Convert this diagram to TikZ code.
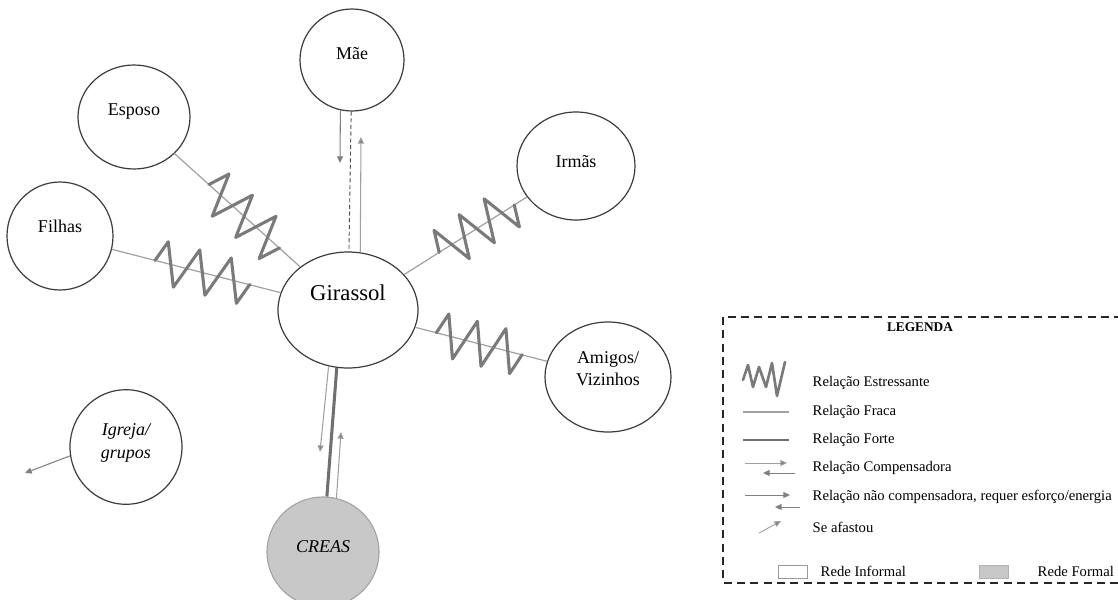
\documentclass[tikz,border=0pt]{standalone}
\usepackage{fontspec}
\setmainfont{Liberation Serif}
\usetikzlibrary{shapes.geometric,decorations.pathmorphing,calc,arrows.meta}
\definecolor{bord}{HTML}{3C3C3C}
\definecolor{weak}{HTML}{A0A0A0}
\definecolor{strong}{HTML}{707070}
\definecolor{zz}{HTML}{7A7A7A}
\definecolor{arr}{HTML}{808080}
\definecolor{formal}{HTML}{C8C8C8}
\begin{document}
\begin{tikzpicture}[x=0.75pt,y=-0.75pt,
  member/.style={ellipse,draw=bord,line width=0.9pt,fill=white,inner sep=0pt},
  formalnode/.style={member,draw=black!35,fill=formal},
  lbl/.style={font=\fontsize{13.5}{16.5}\selectfont,align=center,text=black},
  fraca/.style={draw=weak,line width=0.9pt},
  forte/.style={draw=strong,line width=2.3pt},
  stress/.style={draw=zz,line width=2.3pt,line join=round,line cap=round,decorate,
    decoration={zigzag,amplitude=16pt,segment length=#1}},
  flow/.style={draw=arr,line width=0.8pt,-{Triangle[length=5pt,width=4.5pt]}},
  lightflow/.style={flow,draw=weak,-{Triangle[length=5pt,width=4.5pt,fill=arr]}},
  maeline/.style={draw=black!70,line width=0.7pt,dash pattern=on 3pt off 2pt},
  legtext/.style={anchor=west,font=\fontsize{11}{13}\selectfont,text=black},
  legbox/.style={draw=black!85,line width=1.5pt,dash pattern=on 6pt off 4pt}
]
\useasboundingbox (0,0) rectangle (1118,600);
\clip (0,0) rectangle (1118,600);

% ---- nodes ----
\node[member,minimum width=78pt,minimum height=76.5pt,
  label={[lbl,yshift=5pt]center:Mãe}] (mae) at (352,60) {};
\node[member,minimum width=84pt,minimum height=78pt,
  label={[lbl,yshift=4pt]center:Esposo}] (esposo) at (134,117) {};
\node[member,minimum width=79.5pt,minimum height=81pt,
  label={[lbl,yshift=7pt]center:Filhas}] (filhas) at (60,236) {};
\node[member,minimum width=105pt,minimum height=87pt,
  label={[lbl,font=\fontsize{17}{20}\selectfont,yshift=13pt]center:Girassol}] (girassol) at (348,310) {};
\node[member,minimum width=88.5pt,minimum height=81pt,
  label={[lbl,yshift=3pt]center:Irmãs}] (irmas) at (576,166) {};
\node[member,minimum width=94.5pt,minimum height=82.5pt,
  label={[lbl,yshift=6pt]center:Amigos/\\Vizinhos}] (amigos) at (608,377) {};
\node[member,minimum width=84pt,minimum height=86pt,
  label={[lbl,font=\fontsize{13.5}{17}\selectfont\itshape,yshift=3pt]center:Igreja/\\grupos}] (igreja) at (126,447) {};
\node[formalnode,minimum width=84pt,minimum height=82.5pt,
  label={[lbl,font=\fontsize{13.5}{16.5}\selectfont\itshape,yshift=4pt]center:CREAS}] (creas) at (323,552) {};

% ---- connectors ----
\draw[fraca] (esposo) -- (girassol);
\draw[fraca] (filhas) -- (girassol);
\draw[fraca] (irmas) -- (girassol);
\draw[fraca] (amigos) -- (girassol);
\draw[stress=23.7pt] ($(esposo)!0.35!(girassol)$) -- ($(esposo)!0.68!(girassol)$);
\draw[stress=24.4pt] ($(filhas)!0.33!(girassol)$) -- ($(filhas)!0.66!(girassol)$);
\draw[stress=22.2pt] ($(girassol)!0.40!(irmas)$) -- ($(girassol)!0.73!(irmas)$);
\draw[stress=22.1pt] ($(girassol)!0.34!(amigos)$) -- ($(girassol)!0.67!(amigos)$);

\draw[maeline] (mae) -- (girassol);
\coordinate (maedown) at (340,163);
\coordinate (maeup) at (361,137);
\draw[flow] (mae.-103) -- (maedown);
\draw[lightflow] (girassol.78) -- (maeup);

\draw[forte] (girassol.-101) -- (creas.86);
\coordinate (creasdown) at (320,452);
\coordinate (creasup) at (341,432);
\draw[lightflow] (girassol.-109) -- (creasdown);
\draw[lightflow] (creas.76) -- (creasup);

\coordinate (igrejaout) at (25,473);
\draw[flow] (igreja.189) -- (igrejaout);

% ---- legend ----
\draw[legbox] (723,317) rectangle (1130,583);
\node[font=\fontsize{10}{12}\selectfont\bfseries,text=black] (legtitle) at (920,327) {LEGENDA};
\draw[draw=zz,line width=2pt,line join=round,line cap=round]
  (743,380)--(748,365)--(753,387)--(759,367)--(766,387)--(772,363)--(777,396)--(785,362);
\node[legtext] (t1) at (808,383) {Relação Estressante};
\draw[fraca] (743,412) -- (789,412);
\node[legtext] (t2) at (808,412) {Relação Fraca};
\draw[forte,line width=1.6pt] (743,440) -- (789,440);
\node[legtext] (t3) at (808,440) {Relação Forte};
\draw[lightflow,line width=0.7pt] (745,463) -- (787,463);
\draw[flow,line width=0.7pt] (795,473) -- (763,473);
\node[legtext] (t4) at (808,468) {Relação Compensadora};
\draw[flow,line width=0.7pt] (745,495) -- (790,495);
\draw[flow,line width=0.7pt] (800,507) -- (775,507);
\node[legtext] (t5) at (808,497) {Relação não compensadora, requer esforço/energia};
\draw[lightflow,line width=0.7pt] (759,533) -- (781,521);
\node[legtext] (t6) at (808,527) {Se afastou};
\draw[draw=black!40,line width=0.6pt,fill=white] (778,565) rectangle (807,578);
\node[legtext] (t7) at (816,571) {Rede Informal};
\draw[draw=black!30,line width=0.6pt,fill=formal] (979,565) rectangle (1008,578);
\node[legtext] (t8) at (1033,571) {Rede Formal};
\end{tikzpicture}
\end{document}
